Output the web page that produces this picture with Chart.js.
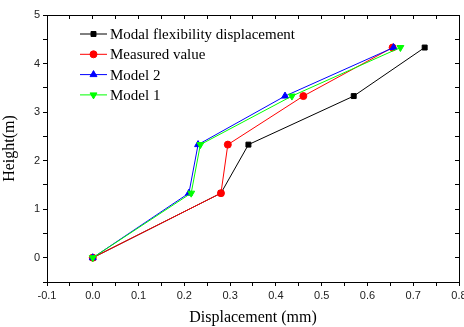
<!DOCTYPE html>
<html>
<head>
<meta charset="utf-8">
<script src="https://cdn.jsdelivr.net/npm/chart.js@4.4.0/dist/chart.umd.min.js"></script>
<style>
  html, body { margin: 0; padding: 0; background: #fff; }
  #wrap { width: 464px; height: 327px; }
</style>
</head>
<body>
<div id="wrap"><canvas id="dispChart" width="464" height="327"></canvas></div>
<script>
const heights = [0, 1.33, 2.33, 3.33, 4.33];
const modalDisp = [0, 0.28, 0.34, 0.57, 0.725];
const measuredDisp = [0, 0.28, 0.295, 0.46, 0.655];
const model2Disp = [0, 0.21, 0.23, 0.42, 0.657];
const model1Disp = [0, 0.215, 0.235, 0.435, 0.672];
const seriesNames = ['Modal flexibility displacement', 'Measured value', 'Model 2', 'Model 1'];

const toPoints = (xs) => xs.map((x, i) => ({ x: x, y: heights[i] }));

const serif = "'Liberation Serif', 'Times New Roman', serif";
const sans = "'Liberation Sans', Arial, sans-serif";

// legend drawn inside the plot area, top-left
const innerLegend = {
    id: 'innerLegend',
    afterDatasetsDraw(chart) {
        const ctx = chart.ctx;
        const x1 = 80, x2 = 107;
        ctx.save();
        chart.data.datasets.forEach((ds, i) => {
            const y = 34 + i * 20.3;
            ctx.strokeStyle = ds.borderColor;
            ctx.lineWidth = 1;
            ctx.beginPath();
            ctx.moveTo(x1, y);
            ctx.lineTo(x2, y);
            ctx.stroke();
            ctx.fillStyle = ds.backgroundColor;
            ctx.strokeStyle = ds.borderColor;
            Chart.helpers.drawPoint(ctx, {
                pointStyle: ds.pointStyle,
                radius: ds.pointRadius,
                rotation: ds.pointRotation || 0,
                borderWidth: 1
            }, (x1 + x2) / 2, y);
            ctx.fillStyle = '#000';
            ctx.font = '15px ' + serif;
            ctx.textBaseline = 'middle';
            ctx.fillText(ds.label, 110, y + 1);
        });
        ctx.restore();
    }
};

new Chart(document.getElementById('dispChart'), {
    type: 'line',
    data: {
        datasets: [{
            label: seriesNames[0],
            data: toPoints(modalDisp),
            borderColor: '#000000',
            backgroundColor: '#000000',
            pointStyle: 'rect',
            pointRadius: 3.5,
            order: 4
        }, {
            label: seriesNames[1],
            data: toPoints(measuredDisp),
            borderColor: '#ff0000',
            backgroundColor: '#ff0000',
            pointStyle: 'circle',
            pointRadius: 3.5,
            order: 3
        }, {
            label: seriesNames[2],
            data: toPoints(model2Disp),
            borderColor: '#0000ff',
            backgroundColor: '#0000ff',
            pointStyle: 'triangle',
            pointRadius: 4,
            order: 2
        }, {
            label: seriesNames[3],
            data: toPoints(model1Disp),
            borderColor: '#00ff00',
            backgroundColor: '#00ff00',
            pointStyle: 'triangle',
            pointRotation: 180,
            pointRadius: 4,
            order: 1
        }]
    },
    options: {
        responsive: false,
        animation: false,
        layout: { padding: 0 },
        elements: { line: { borderWidth: 1, tension: 0 }, point: { borderWidth: 1 } },
        plugins: { legend: { display: false }, tooltip: { enabled: false } },
        scales: {
            x: {
                type: 'linear',
                position: 'bottom',
                min: -0.1,
                max: 0.8,
                grid: { drawOnChartArea: false, tickLength: 4, color: '#000', tickColor: '#000' },
                border: { color: '#000', width: 1 },
                ticks: {
                    stepSize: 0.05,
                    autoSkip: false,
                    maxRotation: 0,
                    padding: 3,
                    color: '#222',
                    font: { family: sans, size: 11 },
                    callback: (v) => Math.abs(v * 10 - Math.round(v * 10)) < 1e-6 ? v.toFixed(1) : ''
                },
                title: {
                    display: true,
                    text: 'Displacement (mm)',
                    color: '#000',
                    font: { family: serif, size: 16 },
                    padding: { top: 2, bottom: 0 }
                },
                afterFit: (s) => { s.height = 45; s.paddingLeft = 0; s.paddingRight = 0; }
            },
            y: {
                type: 'linear',
                position: 'left',
                min: -0.5,
                max: 5,
                grid: { drawOnChartArea: false, tickLength: 4, color: '#000', tickColor: '#000' },
                border: { color: '#000', width: 1 },
                ticks: {
                    stepSize: 0.5,
                    autoSkip: false,
                    padding: 3,
                    color: '#222',
                    font: { family: sans, size: 11 },
                    callback: (v) => Number.isInteger(v) ? String(v) : ''
                },
                title: {
                    display: true,
                    text: 'Height(m)',
                    color: '#000',
                    font: { family: serif, size: 16 },
                    padding: { top: 0, bottom: 4 }
                },
                afterFit: (s) => { s.width = 47; s.paddingTop = 0; s.paddingBottom = 0; }
            },
            x2: {
                type: 'linear',
                position: 'top',
                min: -0.1,
                max: 0.8,
                grid: { drawOnChartArea: false, tickLength: -4, color: '#000', tickColor: '#000' },
                border: { color: '#000', width: 1 },
                ticks: { display: false, stepSize: 0.05, autoSkip: false },
                afterFit: (s) => { s.height = 15; s.paddingLeft = 0; s.paddingRight = 0; }
            },
            y2: {
                type: 'linear',
                position: 'right',
                min: -0.5,
                max: 5,
                grid: { drawOnChartArea: false, tickLength: -4, color: '#000', tickColor: '#000' },
                border: { color: '#000', width: 1 },
                ticks: { display: false, stepSize: 0.5, autoSkip: false },
                afterFit: (s) => { s.width = 3; s.paddingTop = 0; s.paddingBottom = 0; }
            }
        }
    },
    plugins: [innerLegend]
});
</script>
</body>
</html>
